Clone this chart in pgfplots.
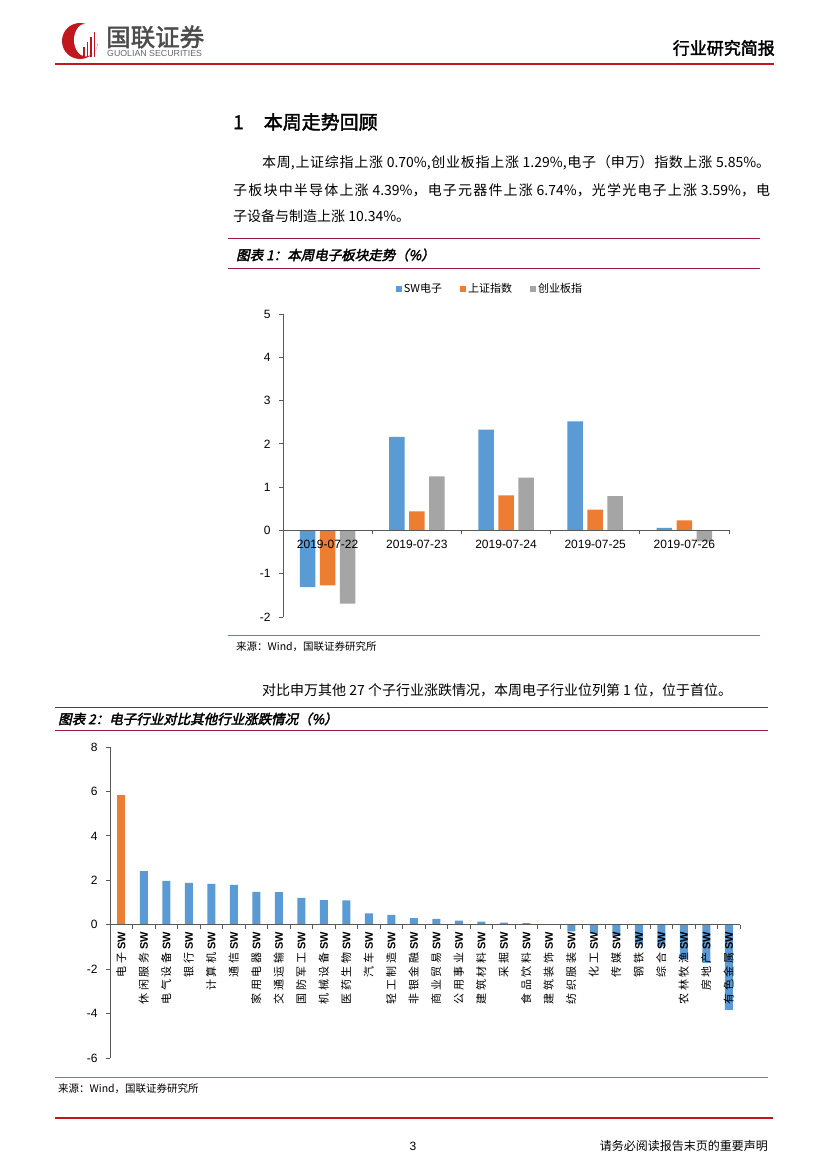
\documentclass[border=0pt]{standalone}
\usepackage{pgfplots}
\pgfplotsset{compat=1.18}
\usepackage{fontspec}
\setmainfont{Noto Sans CJK SC}
\newfontfamily\arial{Liberation Sans}
\newfontfamily\cjkbold{Noto Sans CJK SC}[FakeBold=2]
\newfontfamily\cjktitle{Noto Sans CJK SC}[FakeBold=2.5,FakeSlant=0.22]
\newfontfamily\cjkls{Noto Sans CJK SC}[LetterSpace=22]
\XeTeXlinebreaklocale "zh"
\XeTeXlinebreakskip=0pt plus 4pt
\definecolor{swblue}{HTML}{5B9BD5}
\definecolor{sworange}{HTML}{ED7D31}
\definecolor{swgray}{HTML}{A5A5A5}
\definecolor{hdrred}{HTML}{C0161E}
\definecolor{ttlred}{HTML}{9B1B40}
\definecolor{srcred}{HTML}{C8587A}
\definecolor{axgray}{HTML}{595959}
\newcommand{\fs}[1]{\fontsize{#1}{#1}\selectfont}
\newcommand{\jline}[2]{\parbox{#1}{\fs{14}\spaceskip=0.25em plus 1pt\relax\parfillskip=0pt\relax #2}}
\newcommand{\lb}[1]{{\cjkls #1}\hspace{3pt}{\arial\bfseries SW}}
\pgfplotsset{sqleg/.style={legend image code/.code={\fill[##1,draw=none] (0pt,-3pt) rectangle (6pt,3pt);}}}
\pgfplotsset{pageaxis/.style={
  scale only axis, anchor=south west, axis on top,
  axis x line=middle, axis y line=left,
  axis line style={-, draw=axgray, line width=0.8pt},
  hide obscured x ticks=false, hide obscured y ticks=false,
  tick align=outside,
  major tick length=4pt, minor tick length=4pt,
  tick style={draw=axgray, line width=0.8pt},
  major x tick style={draw=none},
  yticklabel style={font=\arial\fs{12}, text=black, xshift=-5pt},
  /pgf/number format/assume math mode=true,
  ybar, clip=false,
}}
\begin{document}
\begin{tikzpicture}[x=1pt,y=-1pt]
\useasboundingbox (0,0) rectangle (827,1169);
\fill[white] (0,0) rectangle (827,1169);
% ---- header / logo
\fill[hdrred] (80,41) circle (18);
\fill[white] (86,40) ellipse (12 and 16.5);
\foreach \xx/\hh in {83/10,86.5/15,90/20,93.5/25} {\fill[hdrred] (\xx,57) rectangle ++(1.8,-\hh);}
\node[anchor=west, inner sep=0, text=black!70] at (106,37) {\cjkbold\fs{24.5}国联证券};
\node[anchor=west, inner sep=0, text=black!60] at (107,53) {\arial\fs{8.8}GUOLIAN SECURITIES};
\node[anchor=east, inner sep=0] at (775,48) {\cjkbold\fs{17}行业研究简报};
\draw[hdrred, line width=1.5pt] (55,64) -- (774,64);
% ---- section text
\node[anchor=west, inner sep=0] at (233,122) {\cjkbold\fs{19}1\hspace{20pt}本周走势回顾};
\node[anchor=west, inner sep=0] at (262,163) {\jline{508pt}{本周,上证综指上涨 0.70\%,创业板指上涨 1.29\%,电子（申万）指数上涨 5.85\%。}};
\node[anchor=west, inner sep=0] at (233,190) {\jline{537pt}{子板块中半导体上涨 4.39\%，电子元器件上涨 6.74\%，光学光电子上涨 3.59\%，电}};
\node[anchor=west, inner sep=0] at (233,216) {\fs{14}子设备与制造上涨 10.34\%。};
% ---- chart 1 frame
\draw[ttlred, line width=1pt] (228,238) -- (760,238);
\node[anchor=west, inner sep=0] at (236,255) {\cjktitle\fs{13.5}图表 1：本周电子板块走势（\%）};
\draw[ttlred, line width=1pt] (228,268) -- (760,268);
\draw[srcred, line width=1pt] (228,635) -- (760,635);
\node[anchor=west, inner sep=0] at (236,647) {\fs{10.5}来源：Wind，国联证券研究所};
\node[anchor=west, inner sep=0] at (262,690) {\fs{14}对比申万其他 27 个子行业涨跌情况，本周电子行业位列第 1 位，位于首位。};
% ---- chart 2 frame
\draw[ttlred, line width=1pt] (55,707) -- (768,707);
\node[anchor=west, inner sep=0] at (58,719) {\cjktitle\fs{13.5}图表 2：电子行业对比其他行业涨跌情况（\%）};
\draw[ttlred, line width=1pt] (55,730) -- (768,730);
\draw[srcred, line width=1pt] (55,1077) -- (768,1077);
\node[anchor=west, inner sep=0] at (58,1089) {\fs{10.5}来源：Wind，国联证券研究所};
% ---- footer
\draw[hdrred, line width=1.5pt] (55,1118) -- (773,1118);
\node[inner sep=0] at (413,1146) {\arial\fs{12}3};
\node[anchor=east, inner sep=0] at (768,1146) {\fs{12}请务必阅读报告末页的重要声明};
% ---- chart 1
\begin{axis}[pageaxis,
  at={(283pt,-617pt)},
  width=446pt, height=303pt,
  xmin=0, xmax=5, ymin=-2, ymax=5,
  ytick={-2,-1,0,1,2,3,4,5},
  xtick={0.5,1.5,2.5,3.5,4.5},
  xticklabels={2019-07-22,2019-07-23,2019-07-24,2019-07-25,2019-07-26},
  xticklabel style={font=\arial\fs{12}, text=black, yshift=-2pt},
  minor xtick={1,2,3,4,5},
  bar width=15.5pt,
  legend style={at={(0.464,1.083)}, anchor=center, draw=none, fill=none,
    legend columns=3, font=\fs{11},
    /tikz/every even column/.append style={column sep=16pt}},
]
\addplot[fill=swblue, draw=none, bar shift=-20pt, sqleg] coordinates {(0.5,-1.31) (1.5,2.16) (2.5,2.33) (3.5,2.52) (4.5,0.06)};
\addplot[fill=sworange, draw=none, bar shift=0pt, sqleg] coordinates {(0.5,-1.27) (1.5,0.44) (2.5,0.81) (3.5,0.48) (4.5,0.23)};
\addplot[fill=swgray, draw=none, bar shift=20pt, sqleg] coordinates {(0.5,-1.69) (1.5,1.25) (2.5,1.22) (3.5,0.79) (4.5,-0.25)};
\legend{SW电子,上证指数,创业板指}
\end{axis}
% ---- chart 2
\begin{axis}[pageaxis,
  at={(110pt,-1058pt)},
  width=630pt, height=311pt,
  xmin=0, xmax=28, ymin=-6, ymax=8,
  ytick={-6,-4,-2,0,2,4,6,8},
  xtick={0.5,1.5,2.5,3.5,4.5,5.5,6.5,7.5,8.5,9.5,10.5,11.5,12.5,13.5,14.5,15.5,16.5,17.5,18.5,19.5,20.5,21.5,22.5,23.5,24.5,25.5,26.5,27.5},
  xticklabels={\lb{电子},\lb{休闲服务},\lb{电气设备},\lb{银行},\lb{计算机},\lb{通信},\lb{家用电器},\lb{交通运输},\lb{国防军工},\lb{机械设备},\lb{医药生物},\lb{汽车},\lb{轻工制造},\lb{非银金融},\lb{商业贸易},\lb{公用事业},\lb{建筑材料},\lb{采掘},\lb{食品饮料},\lb{建筑装饰},\lb{纺织服装},\lb{化工},\lb{传媒},\lb{钢铁},\lb{综合},\lb{农林牧渔},\lb{房地产},\lb{有色金属}},
  xticklabel style={rotate=90, anchor=east, font=\fs{11}, text=black},
  minor xtick={1,2,...,28},
  bar width=8pt,
]
\addplot[fill=sworange, draw=none, bar shift=0pt] coordinates {(0.5,5.85)};
\addplot[fill=swblue, draw=none, bar shift=0pt] coordinates {
(1.5,2.41) (2.5,1.97) (3.5,1.88) (4.5,1.84) (5.5,1.79) (6.5,1.48) (7.5,1.47)
(8.5,1.21) (9.5,1.11) (10.5,1.10) (11.5,0.51) (12.5,0.44) (13.5,0.30) (14.5,0.26)
(15.5,0.19) (16.5,0.14) (17.5,0.09) (18.5,0.07) (19.5,0.01) (20.5,-0.30) (21.5,-0.38)
(22.5,-0.50) (23.5,-0.90) (24.5,-0.97) (25.5,-1.56) (26.5,-1.72) (27.5,-3.83)};
\end{axis}
\end{tikzpicture}
\end{document}
